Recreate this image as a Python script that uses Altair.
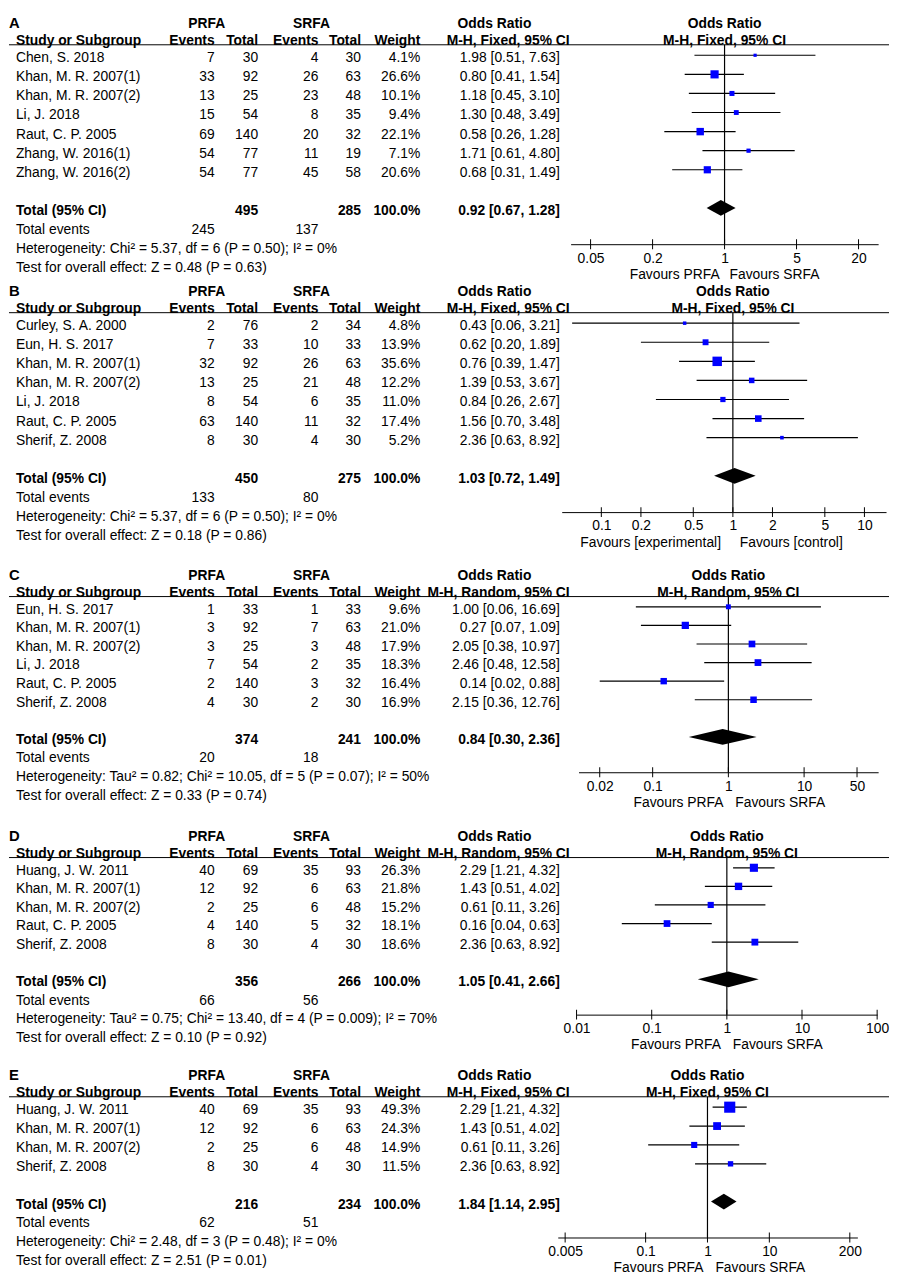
import altair as alt
import pandas as pd

FONT = "Liberation Sans"
FS = 14
W = 890

# ---------------- Panel A ----------------
studies_A = ["Chen, S. 2018", "Khan, M. R. 2007(1)", "Khan, M. R. 2007(2)", "Li, J. 2018",
             "Raut, C. P. 2005", "Zhang, W. 2016(1)", "Zhang, W. 2016(2)"]
prfa_events_A = [7, 33, 13, 15, 69, 54, 54]
prfa_total_A = [30, 92, 25, 54, 140, 77, 77]
srfa_events_A = [4, 26, 23, 8, 20, 11, 45]
srfa_total_A = [30, 63, 48, 35, 32, 19, 58]
weight_A = [4.1, 26.6, 10.1, 9.4, 22.1, 7.1, 20.6]
or_A = [1.98, 0.80, 1.18, 1.30, 0.58, 1.71, 0.68]
lo_A = [0.51, 0.41, 0.45, 0.48, 0.26, 0.61, 0.31]
hi_A = [7.63, 1.54, 3.10, 3.49, 1.28, 4.80, 1.49]
totals_A = [495, 285]
events_A = [245, 137]
pooled_A = [0.92, 0.67, 1.28]
het_A = "Heterogeneity: Chi² = 5.37, df = 6 (P = 0.50); I² = 0%"
test_A = "Test for overall effect: Z = 0.48 (P = 0.63)"
ticks_A = [0.05, 0.2, 1, 5, 20]

# ---------------- Panel B ----------------
studies_B = ["Curley, S. A. 2000", "Eun, H. S. 2017", "Khan, M. R. 2007(1)", "Khan, M. R. 2007(2)",
             "Li, J. 2018", "Raut, C. P. 2005", "Sherif, Z. 2008"]
prfa_events_B = [2, 7, 32, 13, 8, 63, 8]
prfa_total_B = [76, 33, 92, 25, 54, 140, 30]
srfa_events_B = [2, 10, 26, 21, 6, 11, 4]
srfa_total_B = [34, 33, 63, 48, 35, 32, 30]
weight_B = [4.8, 13.9, 35.6, 12.2, 11.0, 17.4, 5.2]
or_B = [0.43, 0.62, 0.76, 1.39, 0.84, 1.56, 2.36]
lo_B = [0.06, 0.20, 0.39, 0.53, 0.26, 0.70, 0.63]
hi_B = [3.21, 1.89, 1.47, 3.67, 2.67, 3.48, 8.92]
totals_B = [450, 275]
events_B = [133, 80]
pooled_B = [1.03, 0.72, 1.49]
het_B = "Heterogeneity: Chi² = 5.37, df = 6 (P = 0.50); I² = 0%"
test_B = "Test for overall effect: Z = 0.18 (P = 0.86)"
ticks_B = [0.1, 0.2, 0.5, 1, 2, 5, 10]

# ---------------- Panel C ----------------
studies_C = ["Eun, H. S. 2017", "Khan, M. R. 2007(1)", "Khan, M. R. 2007(2)", "Li, J. 2018",
             "Raut, C. P. 2005", "Sherif, Z. 2008"]
prfa_events_C = [1, 3, 3, 7, 2, 4]
prfa_total_C = [33, 92, 25, 54, 140, 30]
srfa_events_C = [1, 7, 3, 2, 3, 2]
srfa_total_C = [33, 63, 48, 35, 32, 30]
weight_C = [9.6, 21.0, 17.9, 18.3, 16.4, 16.9]
or_C = [1.00, 0.27, 2.05, 2.46, 0.14, 2.15]
lo_C = [0.06, 0.07, 0.38, 0.48, 0.02, 0.36]
hi_C = [16.69, 1.09, 10.97, 12.58, 0.88, 12.76]
totals_C = [374, 241]
events_C = [20, 18]
pooled_C = [0.84, 0.30, 2.36]
het_C = "Heterogeneity: Tau² = 0.82; Chi² = 10.05, df = 5 (P = 0.07); I² = 50%"
test_C = "Test for overall effect: Z = 0.33 (P = 0.74)"
ticks_C = [0.02, 0.1, 1, 10, 50]

# ---------------- Panel D ----------------
studies_D = ["Huang, J. W. 2011", "Khan, M. R. 2007(1)", "Khan, M. R. 2007(2)",
             "Raut, C. P. 2005", "Sherif, Z. 2008"]
prfa_events_D = [40, 12, 2, 4, 8]
prfa_total_D = [69, 92, 25, 140, 30]
srfa_events_D = [35, 6, 6, 5, 4]
srfa_total_D = [93, 63, 48, 32, 30]
weight_D = [26.3, 21.8, 15.2, 18.1, 18.6]
or_D = [2.29, 1.43, 0.61, 0.16, 2.36]
lo_D = [1.21, 0.51, 0.11, 0.04, 0.63]
hi_D = [4.32, 4.02, 3.26, 0.63, 8.92]
totals_D = [356, 266]
events_D = [66, 56]
pooled_D = [1.05, 0.41, 2.66]
het_D = "Heterogeneity: Tau² = 0.75; Chi² = 13.40, df = 4 (P = 0.009); I² = 70%"
test_D = "Test for overall effect: Z = 0.10 (P = 0.92)"
ticks_D = [0.01, 0.1, 1, 10, 100]

# ---------------- Panel E ----------------
studies_E = ["Huang, J. W. 2011", "Khan, M. R. 2007(1)", "Khan, M. R. 2007(2)", "Sherif, Z. 2008"]
prfa_events_E = [40, 12, 2, 8]
prfa_total_E = [69, 92, 25, 30]
srfa_events_E = [35, 6, 6, 4]
srfa_total_E = [93, 63, 48, 30]
weight_E = [49.3, 24.3, 14.9, 11.5]
or_E = [2.29, 1.43, 0.61, 2.36]
lo_E = [1.21, 0.51, 0.11, 0.63]
hi_E = [4.32, 4.02, 3.26, 8.92]
totals_E = [216, 234]
events_E = [62, 51]
pooled_E = [1.84, 1.14, 2.95]
het_E = "Heterogeneity: Chi² = 2.48, df = 3 (P = 0.48); I² = 0%"
test_E = "Test for overall effect: Z = 2.51 (P = 0.01)"
ticks_E = [0.005, 0.1, 1, 10, 200]

FIXED = "M-H, Fixed, 95% CI"
RANDOM = "M-H, Random, 95% CI"

# column x positions (pixels in plot area)
X_STUDY, X_PE, X_PT, X_SE, X_ST, X_W, X_OR, X_ORH = 7, 208, 252, 313, 356, 416, 557, 567
X_PRFA, X_SRFA, X_ORT = 200, 306, 491


def fmt_or(e, l, h):
    return f"{e:.2f} [{l:.2f}, {h:.2f}]"


def build(letter, studies, pe, pt, se, st, wt, est, lo, hi, totals, events, pooled, het, test,
          ticks, method, fav, dom, rng, fdx, top, sq, rs):
    n = len(studies)
    ax = n + 2.9
    H = (ax - top) * rs
    ysc = alt.Scale(domain=[top, ax], reverse=True, nice=False, zero=False)
    xsc = alt.Scale(type="log", domain=dom, range=rng, nice=False)
    xaxis = alt.Axis(values=ticks, format="~g", title=None, ticks=False, grid=False,
                     domainColor="black", domainWidth=1, labelFont=FONT, labelFontSize=FS,
                     labelColor="black", labelPadding=7, labelFlush=False,
                     labelOverlap=False, labelBound=False)

    def Y(f="row"):
        return alt.Y(f"{f}:Q", scale=ysc, axis=None)

    def X(f):
        return alt.X(f"{f}:Q", scale=xsc, axis=xaxis)

    cells = []

    def add(row, x, align, bold, text):
        cells.append(dict(row=row, x=x, align=align, bold=bold, text=str(text)))

    add(-1.8, X_PRFA, "center", True, "PRFA")
    add(-1.8, X_SRFA, "center", True, "SRFA")
    add(-1.8, X_ORT, "center", True, "Odds Ratio")
    add(-0.88, X_STUDY, "left", True, "Study or Subgroup")
    add(-0.88, X_PE, "right", True, "Events")
    add(-0.88, X_PT, "right", True, "Total")
    add(-0.88, X_SE, "right", True, "Events")
    add(-0.88, X_ST, "right", True, "Total")
    add(-0.88, X_W, "right", True, "Weight")
    add(-0.88, X_ORH, "right", True, method)
    for i in range(n):
        add(i, X_STUDY, "left", False, studies[i])
        add(i, X_PE, "right", False, pe[i])
        add(i, X_PT, "right", False, pt[i])
        add(i, X_SE, "right", False, se[i])
        add(i, X_ST, "right", False, st[i])
        add(i, X_W, "right", False, f"{wt[i]:.1f}%")
        add(i, X_OR, "right", False, fmt_or(est[i], lo[i], hi[i]))
    add(n + 1, X_STUDY, "left", True, "Total (95% CI)")
    add(n + 1, X_PT, "right", True, totals[0])
    add(n + 1, X_ST, "right", True, totals[1])
    add(n + 1, X_W, "right", True, "100.0%")
    add(n + 1, X_OR, "right", True, fmt_or(*pooled))
    add(n + 2, X_STUDY, "left", False, "Total events")
    add(n + 2, X_PE, "right", False, events[0])
    add(n + 2, X_SE, "right", False, events[1])
    add(n + 3, X_STUDY, "left", False, het)
    add(n + 4, X_STUDY, "left", False, test)

    cdf = pd.DataFrame(cells)
    layers = []
    for (x, align, bold), g in cdf.groupby(["x", "align", "bold"]):
        layers.append(
            alt.Chart(g.reset_index(drop=True)).mark_text(
                align=align, baseline="middle", dy=3, font=FONT, fontSize=FS,
                fontWeight="bold" if bold else "normal", color="black"
            ).encode(x=alt.value(int(x)), y=Y(), text="text:N")
        )
    layers.append(
        alt.Chart(pd.DataFrame({"row": [-1.85], "text": [letter]})).mark_text(
            align="left", baseline="middle", dy=3, font=FONT, fontSize=15, fontWeight="bold",
            color="black"
        ).encode(x=alt.value(0), y=Y(), text="text:N")
    )
    layers.append(
        alt.Chart(pd.DataFrame({"row": [-0.55]})).mark_rule(color="black", strokeWidth=1)
        .encode(x=alt.value(0), x2=alt.value(W), y=Y())
    )
    layers.append(
        alt.Chart(pd.DataFrame({"x": [1.0], "row": [-0.55], "row2": [ax]}))
        .mark_rule(color="black", strokeWidth=1.2)
        .encode(x=X("x"), y=Y("row"), y2=alt.Y2("row2"))
    )
    fdf = pd.DataFrame({"row": list(range(n)), "est": est, "lo": lo, "hi": hi, "w": wt})
    layers.append(
        alt.Chart(fdf).mark_rule(color="black", strokeWidth=1.2)
        .encode(x=X("lo"), x2=alt.X2("hi"), y=Y())
    )
    layers.append(
        alt.Chart(fdf).mark_square(filled=True, color="#0000ff", opacity=1)
        .encode(x=X("est"), y=Y(),
                size=alt.Size("w:Q", scale=alt.Scale(domain=[0, 100], range=[0, sq * sq * 100]),
                              legend=None))
    )
    r = n + 1
    hh = 8.0 / rs
    ddf = pd.DataFrame({"x": [pooled[1], pooled[0], pooled[2]],
                        "y1": [r, r - hh, r], "y2": [r, r + hh, r]})
    layers.append(
        alt.Chart(ddf).mark_area(color="black", opacity=1)
        .encode(x=X("x"), y=Y("y1"), y2=alt.Y2("y2"))
    )
    layers.append(
        alt.Chart(pd.DataFrame({"x": ticks, "row": [ax] * len(ticks)}))
        .mark_tick(orient="vertical", size=10, thickness=1, color="black", opacity=1)
        .encode(x=X("x"), y=Y())
    )
    layers.append(
        alt.Chart(pd.DataFrame({"x": [1.0, 1.0], "row": [-1.8, -0.88], "text": ["Odds Ratio", method]}))
        .mark_text(align="center", baseline="middle", dy=3, font=FONT, fontSize=FS,
                   fontWeight="bold", color="black")
        .encode(x=X("x"), y=Y(), text="text:N")
    )
    fr = ax + 28.0 / rs
    layers.append(
        alt.Chart(pd.DataFrame({"x": [1.0], "row": [fr], "text": [fav[0]]}))
        .mark_text(align="right", baseline="middle", dy=3, dx=fdx[0], font=FONT, fontSize=FS,
                   color="black")
        .encode(x=X("x"), y=Y(), text="text:N")
    )
    layers.append(
        alt.Chart(pd.DataFrame({"x": [1.0], "row": [fr], "text": [fav[1]]}))
        .mark_text(align="left", baseline="middle", dy=3, dx=fdx[1], font=FONT, fontSize=FS,
                   color="black")
        .encode(x=X("x"), y=Y(), text="text:N")
    )
    return alt.layer(*layers).properties(width=W, height=H)


FAV = ("Favours PRFA", "Favours SRFA")

pA = build("A", studies_A, prfa_events_A, prfa_total_A, srfa_events_A, srfa_total_A, weight_A,
           or_A, lo_A, hi_A, totals_A, events_A, pooled_A, het_A, test_A, ticks_A, FIXED, FAV,
           [0.032, 31], [568, 879], (-5, 5), -2.05, 1.6, 19.3)
pB = build("B", studies_B, prfa_events_B, prfa_total_B, srfa_events_B, srfa_total_B, weight_B,
           or_B, lo_B, hi_B, totals_B, events_B, pooled_B, het_B, test_B, ticks_B, FIXED,
           ("Favours [experimental]", "Favours [control]"),
           [0.05, 14.6], [559, 887], (-12, 7), -2.15, 1.45, 19.3)
pC = build("C", studies_C, prfa_events_C, prfa_total_C, srfa_events_C, srfa_total_C, weight_C,
           or_C, lo_C, hi_C, totals_C, events_C, pooled_C, het_C, test_C, ticks_C, RANDOM, FAV,
           [0.0105, 95], [576, 879], (-5, 7), -3.05, 1.3, 18.8)
pD = build("D", studies_D, prfa_events_D, prfa_total_D, srfa_events_D, srfa_total_D, weight_D,
           or_D, lo_D, hi_D, totals_D, events_D, pooled_D, het_D, test_D, ticks_D, RANDOM, FAV,
           [0.01, 100], [574, 878], (-6, 6), -3.1, 1.4, 18.8)
pE = build("E", studies_E, prfa_events_E, prfa_total_E, srfa_events_E, srfa_total_E, weight_E,
           or_E, lo_E, hi_E, totals_E, events_E, pooled_E, het_E, test_E, ticks_E, FIXED, FAV,
           [0.0038, 265], [555, 858], (-4, 8), -2.9, 1.55, 19.1)

chart = alt.vconcat(
    pA, pB, pC, pD, pE, spacing=0,
    padding={"left": 0, "top": 0, "right": 0, "bottom": 4},
).configure_view(stroke=None)

chart.save("out.html", embed_options={"renderer": "svg", "actions": False})
